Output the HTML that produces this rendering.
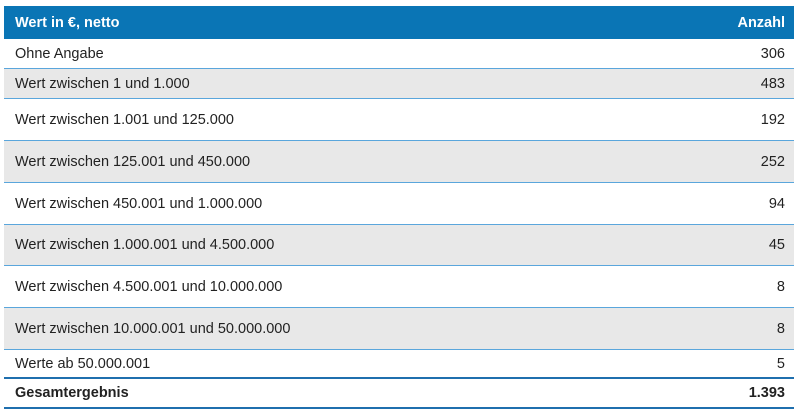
<!DOCTYPE html>
<html><head><meta charset="utf-8"><style>
body{margin:0;width:800px;height:415px;background:#fff;font-family:"Liberation Sans",sans-serif;position:relative;overflow:hidden}
.r{position:absolute;left:4px;width:790px;box-sizing:border-box;font-size:14.5px;color:#222;border-bottom:1px solid #5aa6dc}
.r span{position:absolute;top:50%;transform:translateY(-50%)}
.l{left:11px}.v{right:9px}
.g{background:#e8e8e8}
.h{background:#0a75b5;color:#fff;font-weight:bold;border:none}
.t{font-weight:bold;border-top:2px solid #1f6fae;border-bottom:2px solid #1f6fae}
</style></head><body>
<div class="r h" style="top:6px;height:33px"><span class="l">Wert in €, netto</span><span class="v">Anzahl</span></div>
<div class="r" style="top:39px;height:30px"><span class="l">Ohne Angabe</span><span class="v">306</span></div>
<div class="r g" style="top:69px;height:30px"><span class="l">Wert zwischen 1 und 1.000</span><span class="v">483</span></div>
<div class="r" style="top:99px;height:42px"><span class="l">Wert zwischen 1.001 und 125.000</span><span class="v">192</span></div>
<div class="r g" style="top:141px;height:42px"><span class="l">Wert zwischen 125.001 und 450.000</span><span class="v">252</span></div>
<div class="r" style="top:183px;height:42px"><span class="l">Wert zwischen 450.001 und 1.000.000</span><span class="v">94</span></div>
<div class="r g" style="top:225px;height:41px"><span class="l">Wert zwischen 1.000.001 und 4.500.000</span><span class="v">45</span></div>
<div class="r" style="top:266px;height:42px"><span class="l">Wert zwischen 4.500.001 und 10.000.000</span><span class="v">8</span></div>
<div class="r g" style="top:308px;height:42px"><span class="l">Wert zwischen 10.000.001 und 50.000.000</span><span class="v">8</span></div>
<div class="r" style="top:350px;height:27px;border-bottom:none"><span class="l">Werte ab 50.000.001</span><span class="v">5</span></div>
<div class="r t" style="top:377px;height:32px"><span class="l">Gesamtergebnis</span><span class="v">1.393</span></div>
</body></html>
